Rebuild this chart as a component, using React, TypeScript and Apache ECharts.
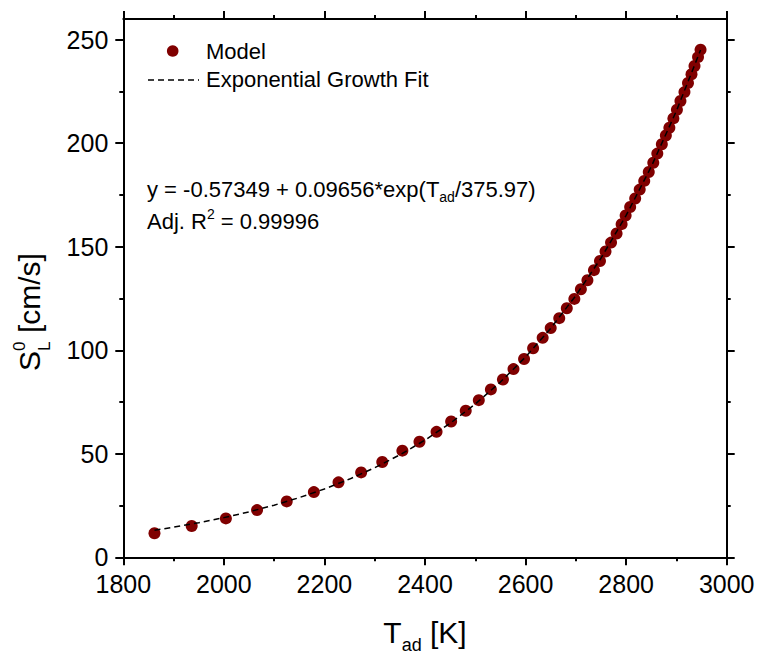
import React, { useEffect, useRef } from "react";
import * as echarts from "echarts";

// Adiabatic flame temperature [K] and laminar flame speed [cm/s] of the model points
const tAd = [
  1862, 1936, 2004, 2066, 2125, 2179, 2228, 2273, 2315, 2355, 2389, 2423, 2452, 2481, 2507, 2531,
  2555, 2576, 2597, 2615, 2634, 2650, 2667, 2682, 2697, 2710, 2723, 2736, 2748, 2759, 2770, 2781,
  2791, 2799, 2808, 2818, 2827, 2836, 2845, 2854, 2862, 2871, 2879, 2886, 2894, 2901, 2908, 2916,
  2923, 2930, 2936, 2943, 2948,
];
const sL = [
  11.6, 15.1, 18.8, 22.8, 27.0, 31.5, 36.2, 41.0, 46.0, 51.5, 55.8, 60.6, 65.6, 70.8, 75.9, 81.1,
  85.9, 90.9, 95.8, 101.0, 106.0, 110.7, 115.5, 120.3, 124.8, 129.5, 133.8, 138.7, 143.1, 147.7, 152.0, 156.4,
  160.9, 165.1, 169.2, 173.3, 177.6, 181.8, 186.1, 190.6, 195.0, 199.5, 203.7, 207.5, 212.0, 216.2, 220.4, 224.7,
  229.1, 233.3, 237.3, 241.6, 245.2,
];

// Exponential growth fit curve
const fitT = [1862, 1900, 1950, 2000, 2050, 2100, 2150, 2200, 2250, 2300, 2350, 2400, 2450, 2500, 2550, 2600, 2650, 2700, 2750, 2800, 2850, 2900, 2948];
const fitS = [13.09, 14.55, 16.7, 19.16, 21.96, 25.17, 28.83, 33.01, 37.79, 43.25, 49.48, 56.6, 64.73, 74.03, 84.64, 96.77, 110.61, 126.43, 144.49, 165.13, 188.72, 215.61, 244.98];

// Axis ticks
const yMajorTicks = [0, 50, 100, 150, 200, 250];
const yMinorTicks = [25, 75, 125, 175, 225];

const FONT = '"Liberation Sans", Arial, Helvetica, sans-serif';
const DARK_RED = "#800000";

interface Run {
  text: string;
  size: number;
  rise?: number; // baseline offset (positive = down)
  stack?: boolean; // next run starts at the same x
}

let measureCtx: CanvasRenderingContext2D | null = null;
function textWidth(text: string, size: number): number {
  if (!measureCtx) measureCtx = document.createElement("canvas").getContext("2d");
  if (!measureCtx) return text.length * size * 0.55;
  measureCtx.font = `${size}px ${FONT}`;
  return measureCtx.measureText(text).width;
}

function runsWidth(runs: Run[]): number {
  let cursor = 0;
  let pending = 0;
  for (const r of runs) {
    const w = textWidth(r.text, r.size);
    if (r.stack) pending = Math.max(pending, w);
    else {
      cursor += Math.max(w, pending);
      pending = 0;
    }
  }
  return cursor + pending;
}

// Lay out a line of mixed-size text (sub/superscripts) on a common baseline
function layoutRuns(runs: Run[], x0: number, baseline: number) {
  const els: any[] = [];
  let cursor = x0;
  let pending = 0;
  for (const r of runs) {
    const w = textWidth(r.text, r.size);
    els.push({
      type: "text",
      x: cursor,
      y: baseline + (r.rise || 0) - 0.3465 * r.size,
      silent: true,
      style: {
        text: r.text,
        fontSize: r.size,
        fontFamily: FONT,
        fill: "#000",
        textAlign: "left",
        align: "left",
        textVerticalAlign: "middle",
        verticalAlign: "middle",
      },
    });
    if (r.stack) pending = Math.max(pending, w);
    else {
      cursor += Math.max(w, pending);
      pending = 0;
    }
  }
  return els;
}

export default function App() {
  const ref = useRef<HTMLDivElement>(null);

  useEffect(() => {
    if (!ref.current) return;
    const chart = echarts.init(ref.current, undefined, { renderer: "svg" });

    const gridLeft = 123.3;
    const gridRight = 759 - 726.7;
    const gridTop = 19;
    const gridBottom = 654 - 557.3;
    const plotCx = (gridLeft + 726.7) / 2;

    const axisLine = { show: true, onZero: false, lineStyle: { color: "#000", width: 2 } };
    const majorTick = { show: true, inside: false, length: 8, lineStyle: { color: "#000", width: 2 } };
    const minorTick = { show: true, splitNumber: 2, length: 4, lineStyle: { color: "#000", width: 2 } };
    const tickLabel = {
      color: "#000",
      fontSize: 25,
      fontFamily: FONT,
      formatter: (v: number) => String(v),
    };

    const xBase = {
      type: "value" as const,
      min: 1800,
      max: 3000,
      interval: 200,
      axisLine,
      axisTick: majorTick,
      minorTick,
      splitLine: { show: false },
      minorSplitLine: { show: false },
    };

    const yBase = {
      type: "value" as const,
      min: 0,
      max: 260,
      interval: 50,
      splitLine: { show: false },
    };

    const xTitleRuns: Run[] = [
      { text: "T", size: 30 },
      { text: "ad", size: 18, rise: 9 },
      { text: " [K]", size: 30 },
    ];
    const xTitleW = runsWidth(xTitleRuns);

    const yTitleRuns: Run[] = [
      { text: "S", size: 30 },
      { text: "L", size: 17, rise: 10, stack: true },
      { text: "0", size: 17, rise: -15 },
      { text: " [cm/s]", size: 30 },
    ];
    const yTitleW = runsWidth(yTitleRuns);

    const eq1: Run[] = [
      { text: "y = -0.57349 + 0.09656*exp(T", size: 22 },
      { text: "ad", size: 14, rise: 5 },
      { text: "/375.97)", size: 22 },
    ];
    const eq2: Run[] = [
      { text: "Adj. R", size: 22 },
      { text: "2", size: 14, rise: -10 },
      { text: " = 0.99996", size: 22 },
    ];

    chart.setOption({
      animation: false,
      backgroundColor: "#fff",
      grid: { left: gridLeft, right: gridRight, top: gridTop, bottom: gridBottom, containLabel: false },
      xAxis: [
        {
          ...xBase,
          position: "bottom",
          axisLabel: { ...tickLabel, margin: 14 },
        },
        {
          ...xBase,
          position: "top",
          axisLabel: { show: false },
        },
      ],
      yAxis: [
        {
          ...yBase,
          position: "left",
          axisLine,
          axisTick: { ...majorTick, customValues: yMajorTicks },
          axisLabel: { ...tickLabel, margin: 15, customValues: yMajorTicks },
        },
        {
          ...yBase,
          position: "left",
          axisLine: { show: false },
          axisTick: { ...majorTick, length: 4, customValues: yMinorTicks },
          axisLabel: { show: false },
        },
        {
          ...yBase,
          position: "right",
          axisLine,
          axisTick: { ...majorTick, customValues: yMajorTicks },
          axisLabel: { show: false },
        },
        {
          ...yBase,
          position: "right",
          axisLine: { show: false },
          axisTick: { ...majorTick, length: 4, customValues: yMinorTicks },
          axisLabel: { show: false },
        },
      ],
      series: [
        {
          name: "Model",
          type: "scatter",
          xAxisIndex: 0,
          yAxisIndex: 0,
          data: tAd.map((t, i) => [t, sL[i]]),
          symbol: "circle",
          symbolSize: 12,
          itemStyle: { color: DARK_RED, opacity: 1 },
          z: 2,
        },
        {
          name: "Exponential Growth Fit",
          type: "line",
          xAxisIndex: 0,
          yAxisIndex: 0,
          data: fitT.map((t, i) => [t, fitS[i]]),
          showSymbol: false,
          symbol: "none",
          lineStyle: { color: "#000", width: 1.5, type: [6, 4] },
          z: 3,
        },
      ],
      graphic: [
        // legend
        { type: "circle", silent: true, shape: { cx: 172.7, cy: 51, r: 5.8 }, style: { fill: DARK_RED } },
        ...layoutRuns([{ text: "Model", size: 22 }], 206, 59),
        {
          type: "line",
          silent: true,
          shape: { x1: 148, y1: 80, x2: 199, y2: 80 },
          style: { stroke: "#000", lineWidth: 1.5, lineDash: [6, 4] },
        },
        ...layoutRuns([{ text: "Exponential Growth Fit", size: 22 }], 206, 87.5),
        // fit equation
        ...layoutRuns(eq1, 147, 197),
        ...layoutRuns(eq2, 147, 229),
        // axis titles
        ...layoutRuns(xTitleRuns, plotCx - xTitleW / 2, 642.7),
        {
          type: "group",
          x: 40,
          y: 312,
          rotation: Math.PI / 2,
          children: layoutRuns(yTitleRuns, -yTitleW / 2, 0),
        },
      ],
    });

    return () => chart.dispose();
  }, []);

  return (
    <div
      ref={ref}
      style={{ position: "fixed", left: 0, top: 0, width: 759, height: 654, background: "#fff" }}
    />
  );
}
